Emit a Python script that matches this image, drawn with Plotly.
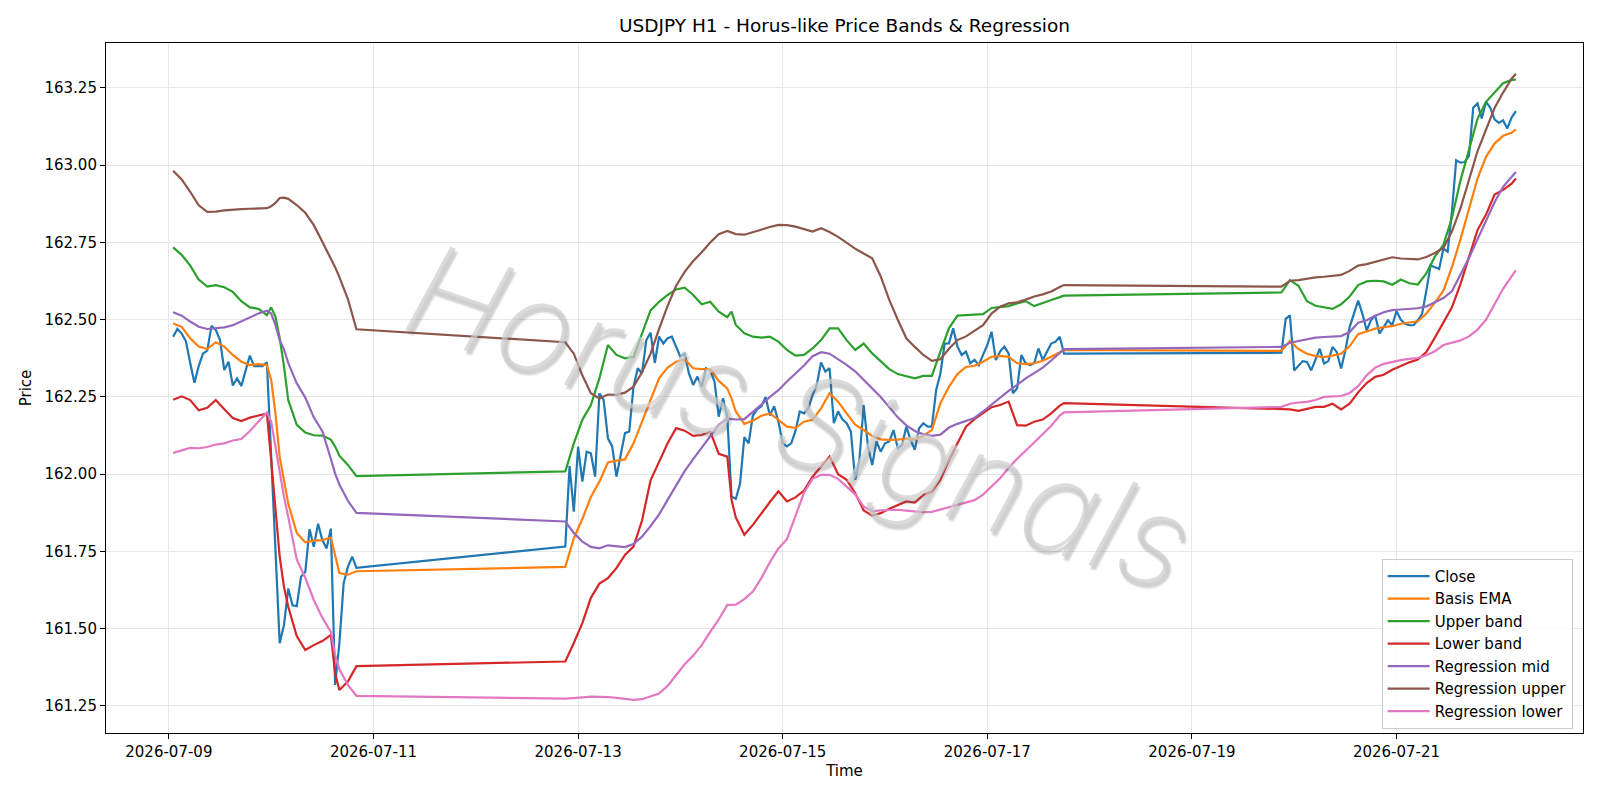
import pandas as pd
import plotly.graph_objects as go

BASE = pd.Timestamp("2026-07-09 00:00")

# ---- time index (hours since 2026-07-09 00:00) ----
close_hours = list(range(1, 45)) + list(range(93, 211)) + list(range(261, 317))
smooth_hours_s1 = [1, 3, 5, 7, 9, 11, 13, 15, 17, 19, 21, 23, 24, 25, 26, 27, 28, 30, 32, 34, 36, 38, 39, 40, 42, 44]
smooth_hours_s2 = list(range(93, 132, 2)) + [132] + list(range(133, 210, 2)) + [210]
smooth_hours_s3 = list(range(261, 316, 2)) + [316]
smooth_hours = smooth_hours_s1 + smooth_hours_s2 + smooth_hours_s3

# ---- Close (hourly) ----
close_s1 = [162.445, 162.47, 162.455, 162.43, 162.36, 162.296, 162.35, 162.39, 162.40, 162.48,
            162.467, 162.434, 162.337, 162.364, 162.287, 162.31, 162.286, 162.337, 162.384, 162.35,
            162.35, 162.35, 162.362, 162.05, 161.75, 161.453, 161.512, 161.63, 161.576, 161.573,
            161.668, 161.684, 161.822, 161.765, 161.84, 161.787, 161.76, 161.824, 161.318, 161.453,
            161.647, 161.70, 161.733, 161.697]
close_s2 = [161.766, 162.027, 161.879, 162.089, 161.976, 162.073, 162.068, 161.992, 162.262, 162.24,
            162.116, 162.09, 161.992, 162.068, 162.133, 162.138, 162.283, 162.343, 162.326, 162.434,
            162.458, 162.36, 162.445, 162.423, 162.44, 162.445, 162.413, 162.38, 162.391, 162.326,
            162.289, 162.316, 162.283, 162.343, 162.337, 162.30, 162.186, 162.246, 162.186, 161.928,
            161.92, 161.97, 162.12, 162.10, 162.19, 162.21, 162.22, 162.25, 162.19, 162.22,
            162.17, 162.10, 162.09, 162.10, 162.14, 162.203, 162.197, 162.213, 162.256, 162.289,
            162.362, 162.332, 162.343, 162.165, 162.203, 162.178, 162.165, 162.138, 161.982, 162.046,
            162.224, 162.09, 162.03, 162.106, 162.073, 162.10, 162.106, 162.143, 162.084, 162.095,
            162.154, 162.111, 162.079, 162.149, 162.165, 162.154, 162.154, 162.273, 162.326, 162.423,
            162.423, 162.472, 162.413, 162.386, 162.397, 162.359, 162.37, 162.353, 162.386, 162.418,
            162.461, 162.37, 162.397, 162.413, 162.391, 162.262, 162.278, 162.386, 162.359, 162.353,
            162.359, 162.407, 162.37, 162.397, 162.423, 162.429, 162.445, 162.39]
close_s3 = [162.393, 162.503, 162.514, 162.336, 162.352, 162.366, 162.363, 162.336, 162.371, 162.406,
            162.358, 162.366, 162.412, 162.395, 162.342, 162.40, 162.476, 162.519, 162.562, 162.519,
            162.465, 162.498, 162.514, 162.455, 162.476, 162.498, 162.482, 162.528, 162.50, 162.487,
            162.482, 162.482, 162.498, 162.519, 162.595, 162.676, 162.67, 162.664, 162.73, 162.72,
            162.85, 163.016, 163.008, 163.01, 163.03, 163.186, 163.20, 163.151, 163.205, 163.186,
            163.148, 163.137, 163.145, 163.119, 163.154, 163.175]

# ---- Basis EMA ----
ema_s1 = [162.488, 162.477, 162.44, 162.413, 162.405, 162.427, 162.413, 162.386, 162.364, 162.353,
          162.356, 162.353, 162.305, 162.197, 162.056, 161.98, 161.905, 161.81, 161.78, 161.785,
          161.787, 161.795, 161.733, 161.68, 161.675, 161.686]
ema_s2 = [161.70, 161.793, 161.855, 161.926, 161.976, 162.038, 162.044, 162.048, 162.10, 162.17,
          162.246, 162.31, 162.345, 162.364, 162.372, 162.343, 162.34, 162.34, 162.302, 162.278,
          162.245,
          162.203, 162.163, 162.173, 162.189, 162.197, 162.176, 162.154, 162.15, 162.17, 162.176,
          162.213, 162.262, 162.235, 162.197, 162.16, 162.143, 162.124, 162.113, 162.111, 162.112,
          162.115, 162.112, 162.124, 162.143, 162.23, 162.283, 162.324, 162.347, 162.351, 162.364,
          162.38, 162.383, 162.38, 162.359, 162.356, 162.359, 162.367, 162.38, 162.395,
          162.402]
ema_s3 = [162.399, 162.431, 162.405, 162.39, 162.382, 162.379, 162.384, 162.39, 162.414, 162.453,
          162.462, 162.471, 162.476, 162.479, 162.487, 162.49, 162.495, 162.52, 162.555, 162.594,
          162.67, 162.76, 162.855, 162.957, 163.027, 163.07, 163.095, 163.105, 163.116]

# ---- Upper band ----
upper_s1 = [162.734, 162.71, 162.675, 162.63, 162.607, 162.612, 162.605, 162.59, 162.56, 162.54,
            162.535, 162.515, 162.54, 162.51, 162.44, 162.35, 162.24, 162.16, 162.135, 162.126,
            162.125, 162.112, 162.09, 162.06, 162.03, 161.994]
upper_s2 = [162.009, 162.10, 162.176, 162.224, 162.31, 162.418, 162.386, 162.375, 162.38, 162.456,
            162.53, 162.558, 162.58, 162.598, 162.604, 162.58, 162.55, 162.558, 162.526, 162.508,
            162.526,
            162.483, 162.456, 162.445, 162.442, 162.445, 162.429, 162.402, 162.384, 162.386, 162.407,
            162.434, 162.472, 162.472, 162.434, 162.402, 162.423, 162.391, 162.367, 162.34, 162.324,
            162.316, 162.31, 162.318, 162.318, 162.397, 162.472, 162.513, 162.515, 162.516, 162.518,
            162.538, 162.54, 162.544, 162.553, 162.56, 162.544, 162.555, 162.564, 162.573,
            162.578]
upper_s3 = [162.588, 162.628, 162.61, 162.56, 162.545, 162.54, 162.535, 162.55, 162.575, 162.612,
            162.624, 162.626, 162.624, 162.613, 162.63, 162.618, 162.614, 162.65, 162.704, 162.742,
            162.83, 162.95, 163.05, 163.15, 163.205, 163.235, 163.265, 163.276, 163.277]

# ---- Lower band ----
lower_s1 = [162.241, 162.252, 162.24, 162.207, 162.215, 162.24, 162.21, 162.182, 162.172, 162.183,
            162.19, 162.196, 162.045, 161.894, 161.733, 161.636, 161.571, 161.476, 161.431, 161.447,
            161.46, 161.48, 161.356, 161.302, 161.329, 161.379]
lower_s2 = [161.394, 161.454, 161.518, 161.60, 161.646, 161.664, 161.696, 161.739, 161.766, 161.85,
            161.98, 162.04, 162.10, 162.149, 162.141, 162.124, 162.127, 162.138, 162.066, 162.057,
            161.917,
            161.86, 161.804, 161.836, 161.875, 161.91, 161.945, 161.912, 161.925, 161.947, 161.992,
            162.023, 162.057, 162.0, 161.982, 161.939, 161.883, 161.866, 161.874, 161.888, 161.9,
            161.912, 161.908, 161.933, 161.944, 161.982, 162.046, 162.102, 162.154, 162.178, 162.197,
            162.217, 162.224, 162.235, 162.159, 162.157, 162.17, 162.177, 162.197, 162.222,
            162.23]
lower_s3 = [162.212, 162.21, 162.205, 162.212, 162.218, 162.218, 162.228, 162.21, 162.228, 162.265,
            162.295, 162.315, 162.322, 162.338, 162.35, 162.362, 162.371, 162.395, 162.442, 162.49,
            162.54, 162.615, 162.70, 162.79, 162.84, 162.905, 162.92, 162.94, 162.957]

# ---- Regression mid ----
regmid_s1 = [162.524, 162.513, 162.494, 162.477, 162.47, 162.472, 162.475, 162.482, 162.494, 162.506,
             162.52, 162.529, 162.52, 162.483, 162.434, 162.404, 162.36, 162.294, 162.248, 162.184,
             162.139, 162.05, 162.002, 161.967, 161.914, 161.875]
regmid_s2 = [161.847, 161.81, 161.782, 161.765, 161.76, 161.77, 161.767, 161.764, 161.774, 161.798,
             161.832, 161.87, 161.917, 161.966, 162.01, 162.049, 162.085, 162.122, 162.16, 162.18,
             162.178,
             162.177, 162.178, 162.2, 162.225, 162.25, 162.272, 162.3, 162.326, 162.352, 162.382,
             162.395, 162.39, 162.372, 162.354, 162.333, 162.305, 162.28, 162.25, 162.217, 162.184,
             162.158, 162.14, 162.129, 162.124, 162.128, 162.151, 162.163, 162.172, 162.182, 162.203,
             162.226, 162.247, 162.27, 162.289, 162.31, 162.327, 162.345, 162.368, 162.394,
             162.405]
regmid_s3 = [162.412, 162.425, 162.431, 162.436, 162.442, 162.444, 162.446, 162.447, 162.46, 162.49,
             162.498, 162.513, 162.524, 162.531, 162.533, 162.535, 162.537, 162.543, 162.556, 162.57,
             162.592, 162.645, 162.70, 162.76, 162.82, 162.88, 162.93, 162.96, 162.978]

# ---- Regression upper ----
regup_s1 = [162.982, 162.954, 162.914, 162.87, 162.849, 162.85, 162.854, 162.857, 162.858, 162.859,
            162.86, 162.861, 162.867, 162.878, 162.894, 162.895, 162.891, 162.871, 162.846, 162.806,
            162.752, 162.698, 162.67, 162.638, 162.567, 162.469]
regup_s2 = [162.427, 162.39, 162.32, 162.262, 162.245, 162.258, 162.257, 162.264, 162.283, 162.33,
            162.39, 162.47, 162.545, 162.61, 162.655, 162.69, 162.718, 162.75, 162.777, 162.787,
            162.783,
            162.777, 162.775, 162.784, 162.792, 162.8, 162.807, 162.806, 162.801, 162.793, 162.785,
            162.796, 162.784, 162.768, 162.748, 162.73, 162.714, 162.699, 162.64, 162.564, 162.5,
            162.44, 162.412, 162.386, 162.367, 162.372, 162.406, 162.434, 162.446, 162.463, 162.482,
            162.52, 162.542, 162.553, 162.556, 162.565, 162.575, 162.582, 162.591, 162.606,
            162.612]
regup_s3 = [162.607, 162.626, 162.628, 162.633, 162.637, 162.639, 162.642, 162.645, 162.658, 162.675,
            162.68, 162.688, 162.695, 162.702, 162.698, 162.697, 162.695, 162.703, 162.716, 162.732,
            162.785, 162.86, 162.95, 163.045, 163.115, 163.185, 163.235, 163.28, 163.296]

# ---- Regression lower ----
reglow_s1 = [162.069, 162.078, 162.085, 162.084, 162.088, 162.096, 162.1, 162.109, 162.114, 162.14,
             162.17, 162.2, 162.17, 162.088, 162.002, 161.927, 161.862, 161.724, 161.665, 161.593,
             161.536, 161.49, 161.415, 161.369, 161.318, 161.283]
reglow_s2 = [161.274, 161.275, 161.278, 161.28, 161.28, 161.279, 161.276, 161.272, 161.27, 161.272,
             161.28, 161.29, 161.315, 161.35, 161.385, 161.413, 161.447, 161.49, 161.53, 161.577,
             161.578,
             161.578, 161.596, 161.62, 161.664, 161.715, 161.76, 161.79, 161.865, 161.94, 161.985,
             161.998, 161.998, 161.985, 161.96, 161.935, 161.895, 161.88, 161.883, 161.885, 161.885,
             161.882, 161.879, 161.877, 161.878, 161.886, 161.894, 161.9, 161.908, 161.916, 161.934,
             161.96, 161.987, 162.02, 162.05, 162.076, 162.103, 162.13, 162.157, 162.19,
             162.2]
reglow_s3 = [162.218, 162.228, 162.232, 162.234, 162.24, 162.25, 162.252, 162.253, 162.263, 162.285,
             162.32, 162.345, 162.357, 162.364, 162.369, 162.373, 162.376, 162.385, 162.398, 162.418,
             162.426, 162.433, 162.446, 162.468, 162.5, 162.55, 162.60, 162.64, 162.66]

y_ticks = [161.25, 161.50, 161.75, 162.00, 162.25, 162.50, 162.75, 163.00, 163.25]
x_tick_dates = ["2026-07-09", "2026-07-11", "2026-07-13", "2026-07-15",
                "2026-07-17", "2026-07-19", "2026-07-21"]

close = close_s1 + close_s2 + close_s3
series = [
    ("Close", close_hours, close, "#1f77b4"),
    ("Basis EMA", smooth_hours, ema_s1 + ema_s2 + ema_s3, "#ff7f0e"),
    ("Upper band", smooth_hours, upper_s1 + upper_s2 + upper_s3, "#2ca02c"),
    ("Lower band", smooth_hours, lower_s1 + lower_s2 + lower_s3, "#d62728"),
    ("Regression mid", smooth_hours, regmid_s1 + regmid_s2 + regmid_s3, "#9467bd"),
    ("Regression upper", smooth_hours, regup_s1 + regup_s2 + regup_s3, "#8c564b"),
    ("Regression lower", smooth_hours, reglow_s1 + reglow_s2 + reglow_s3, "#e377c2"),
]

fig = go.Figure()
for name, hrs, vals, color in series:
    assert len(hrs) == len(vals), (name, len(hrs), len(vals))
    t = BASE + pd.to_timedelta(hrs, unit="h")
    fig.add_trace(go.Scatter(x=t, y=vals, mode="lines", name=name,
                             line=dict(color=color, width=2.2)))

x0 = BASE + pd.Timedelta(hours=-14.75)
x1 = BASE + pd.Timedelta(hours=331.75)

FONT = "DejaVu Sans"
fig.update_layout(
    width=1600, height=800,
    margin=dict(l=106, r=17, t=43, b=67),
    paper_bgcolor="white", plot_bgcolor="white",
    font=dict(family=FONT, size=15, color="black"),
    title=dict(text="USDJPY H1 - Horus-like Price Bands & Regression",
               x=(106 + 1583) / 2 / 1600, xanchor="center", y=1 - 25.5 / 800, yanchor="middle",
               font=dict(family=FONT, size=18.5, color="black")),
    showlegend=True,
    legend=dict(x=0.993, y=0.006, xanchor="right", yanchor="bottom",
                bgcolor="rgba(255,255,255,0.8)", bordercolor="#cccccc", borderwidth=1,
                itemwidth=42,
                font=dict(family=FONT, size=15, color="black"), tracegroupgap=0),
)
fig.update_xaxes(
    range=[x0, x1], showline=True, mirror=True, linecolor="black", linewidth=1.1,
    ticks="outside", ticklen=5, tickwidth=1.1, tickcolor="black",
    tickvals=[pd.Timestamp(d) for d in x_tick_dates], ticktext=x_tick_dates,
    showgrid=True, gridcolor="#e6e6e6", gridwidth=1.1, zeroline=False,
    title=dict(text="Time", font=dict(family=FONT, size=15), standoff=5),
    tickfont=dict(family=FONT, size=15),
)
fig.update_yaxes(
    range=[161.1626, 163.3954], showline=True, mirror=True, linecolor="black", linewidth=1.1,
    ticks="outside", ticklen=5, tickwidth=1.1, tickcolor="black",
    tickvals=y_ticks, ticktext=[f"{v:.2f}" for v in y_ticks],
    showgrid=True, gridcolor="#e6e6e6", gridwidth=1.1, zeroline=False,
    title=dict(text="Price", font=dict(family=FONT, size=15), standoff=9),
    tickfont=dict(family=FONT, size=15),
)

fig.add_annotation(
    text="Horus Signals", xref="paper", yref="paper", x=0.470, y=0.458,
    xanchor="center", yanchor="middle", showarrow=False, textangle=19,
    font=dict(family="DejaVu Sans ExtraLight, Inter, Lato", size=128,
              color="rgba(205,205,205,0.7)",
              style="italic", weight=200, shadow="3px 3px 2px rgba(90,90,90,0.4)"),
)

fig.write_html("out.html")
